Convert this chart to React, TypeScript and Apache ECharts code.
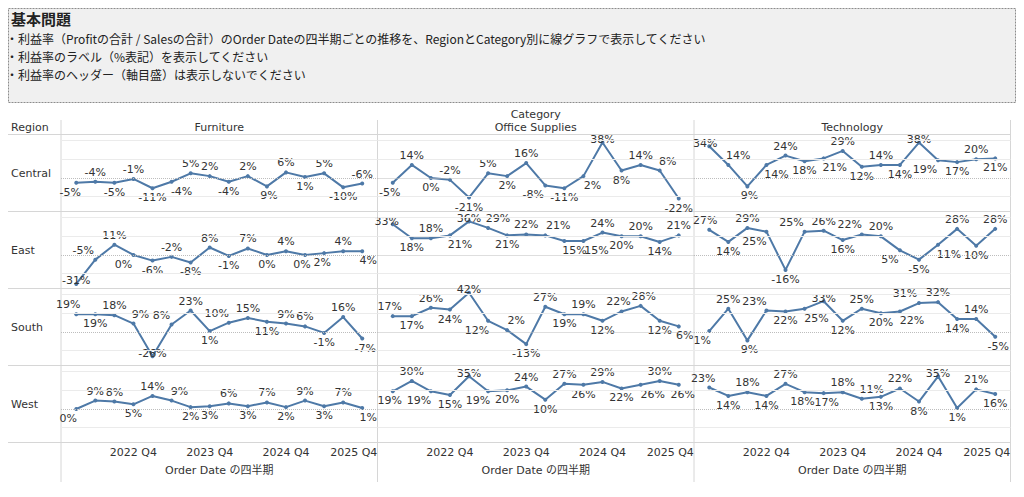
import React, { useEffect, useRef } from "react";
import * as echarts from "echarts";

const quarters = [
  "2022 Q1", "2022 Q2", "2022 Q3", "2022 Q4",
  "2023 Q1", "2023 Q2", "2023 Q3", "2023 Q4",
  "2024 Q1", "2024 Q2", "2024 Q3", "2024 Q4",
  "2025 Q1", "2025 Q2", "2025 Q3", "2025 Q4",
];
const xTickIndexes = [3, 7, 11, 15];
const regions = ["Central", "East", "South", "West"];
const categories = ["Furniture", "Office Supplies", "Technology"];

// Profit ratio (%) per quarter
const centralFurniture = [-5, -4, -5, -1, -11, -4, 5, 2, -4, 2, -9, 6, 1, 5, -10, -6];
const centralOffice = [-5, 14, 0, -2, -21, 5, 2, 16, -8, -11, 2, 38, 8, 14, 8, -22];
const centralTech = [34, 14, -9, 14, 24, 18, 21, 29, 12, 14, 14, 38, 19, 17, 20, 21];
const eastFurniture = [-31, -5, 11, 0, -6, -2, -8, 8, -1, 7, 0, 4, 0, 2, 4, 4];
const eastOffice = [33, 18, 18, 21, 36, 29, 21, 22, 21, 15, 15, 24, 20, 20, 14, 21];
const eastTech = [27, 14, 29, 25, -16, 25, 26, 16, 22, 20, 5, -5, 11, 28, 10, 28];
const southFurniture = [19, 19, 18, 9, -26, 8, 23, 1, 10, 15, 11, 9, 6, -1, 16, -7];
const southOffice = [17, 17, 26, 24, 42, 12, 2, -13, 27, 19, 19, 12, 22, 28, 12, 6];
const southTech = [1, 25, -9, 23, 22, 25, 33, 12, 25, 20, 22, 31, 32, 14, 14, -5];
const westFurniture = [0, 9, 8, 5, 14, 9, 2, 3, 6, 3, 7, 2, 9, 3, 7, 1];
const westOffice = [19, 30, 19, 15, 35, 19, 20, 24, 10, 27, 26, 29, 22, 26, 30, 26];
const westTech = [23, 14, 18, 14, 27, 18, 17, 18, 11, 13, 22, 8, 35, 1, 21, 16];

// label side per point: A = above, B = below, C = on the point (top edge), D = on the point (bottom edge)
const centralFurnitureSides = "BABABBAABABABABA";
const centralOfficeSides = "BABABABABBBCBAAB";
const centralTechSides = "CABBABBABABCBBAB";
const eastFurnitureSides = "CAABBABABABABBAB";
const eastOfficeSides = "CBABCABAABBABABA";
const eastTechSides = "ABABBAABAABBBABA";
const southFurnitureSides = "ABAADAABAABAABAB";
const southOfficeSides = "ABABCBABABABAABB";
const southTechSides = "BABABBCBABBAABAB";
const westFurnitureSides = "BAABAABBABABABAB";
const westOfficeSides = "BABBCBBABABABBAB";
const westTechSides = "ABABABBAABABCBAB";

// horizontal label nudges (px) keyed by point index
const centralFurnitureShift: Record<number, number> = { 0: -6, 5: 10 };
const centralOfficeShift: Record<number, number> = { 0: -3, 8: -12, 10: 9, 14: 8 };
const centralTechShift: Record<number, number> = { 0: -4, 1: 10, 3: 10, 6: 11, 12: -13 };
const eastFurnitureShift: Record<number, number> = { 1: -12, 3: -10, 12: -3, 13: -2, 15: 6 };
const eastOfficeShift: Record<number, number> = { 0: -6, 3: 10, 5: 10, 8: 13, 9: 10, 10: 13 };
const eastTechShift: Record<number, number> = { 0: -4, 3: -12, 5: -13, 8: -12, 10: -10, 12: 11 };
const southFurnitureShift: Record<number, number> = { 0: -8, 3: 7, 5: -10, 8: -12, 15: 3 };
const southOfficeShift: Record<number, number> = { 0: -3, 5: -11, 6: 9, 12: -3, 13: 3, 15: 6 };
const southTechShift: Record<number, number> = { 0: -7, 3: -12, 5: 12, 10: 12, 11: -14, 15: 3 };
const westFurnitureShift: Record<number, number> = { 0: -8, 5: 8, 15: 6 };
const westOfficeShift: Record<number, number> = { 0: -3, 2: -12, 5: -10, 13: 12, 15: 4 };
const westTechShift: Record<number, number> = { 0: -6, 5: -2, 6: 3, 8: 10 };

const panelValues = [
  [centralFurniture, centralOffice, centralTech],
  [eastFurniture, eastOffice, eastTech],
  [southFurniture, southOffice, southTech],
  [westFurniture, westOffice, westTech],
];
const panelSides = [
  [centralFurnitureSides, centralOfficeSides, centralTechSides],
  [eastFurnitureSides, eastOfficeSides, eastTechSides],
  [southFurnitureSides, southOfficeSides, southTechSides],
  [westFurnitureSides, westOfficeSides, westTechSides],
];
const panelShifts = [
  [centralFurnitureShift, centralOfficeShift, centralTechShift],
  [eastFurnitureShift, eastOfficeShift, eastTechShift],
  [southFurnitureShift, southOfficeShift, southTechShift],
  [westFurnitureShift, westOfficeShift, westTechShift],
];

const FONT = "DejaVu Sans, Noto Sans CJK JP, sans-serif";
const JP = "Noto Sans CJK JP, sans-serif";
const LINE = "#4e79a7";
const TEXT = "#333333";
const SEP = "#d6d6d6";

const PANEL_LEFT = 61;
const PANEL_W = 316.5;
const PANEL_TOP = 134.5;
const PANEL_H = 77;
const Y_MIN = -35.9;
const Y_MAX = 46.6;

export default function App() {
  const ref = useRef<HTMLDivElement>(null);
  useEffect(() => {
    if (!ref.current) return;
    const chart = echarts.init(ref.current, null, { renderer: "svg" });
    const grid: any[] = [];
    const xAxis: any[] = [];
    const yAxis: any[] = [];
    const series: any[] = [];
    for (let r = 0; r < regions.length; r++) {
      for (let c = 0; c < categories.length; c++) {
        const k = r * 3 + c;
        grid.push({
          left: PANEL_LEFT + c * PANEL_W,
          top: PANEL_TOP + r * PANEL_H,
          width: PANEL_W,
          height: PANEL_H,
          containLabel: false,
        });
        const bottom = r === regions.length - 1;
        xAxis.push({
          type: "value",
          gridIndex: k,
          min: -0.8,
          max: 15.8,
          show: bottom,
          axisLine: { show: false },
          axisTick: { show: false },
          splitLine: { show: false },
          axisLabel: {
            show: bottom,
            customValues: xTickIndexes,
            margin: 4,
            fontSize: 11,
            color: TEXT,
            fontFamily: FONT,
            formatter: (v: number) =>
              v === 15 ? "{last|" + quarters[v] + "}" : quarters[v],
            rich: { last: { padding: [0, 17, 0, 0], fontSize: 11, color: TEXT, fontFamily: FONT } },
          },
          name: bottom ? "Order Date の四半期" : "",
          nameLocation: "middle",
          nameGap: 22,
          nameTextStyle: { fontSize: 11, color: TEXT, fontFamily: FONT },
        });
        yAxis.push({
          type: "value",
          gridIndex: k,
          min: Y_MIN,
          max: Y_MAX,
          show: false,
          splitLine: { show: false },
        });
        const vals = panelValues[r][c];
        const sides = panelSides[r][c];
        const shifts = panelShifts[r][c];
        series.push({
          type: "line",
          xAxisIndex: k,
          yAxisIndex: k,
          symbol: "circle",
          symbolSize: 4,
          lineStyle: { color: LINE, width: 2 },
          itemStyle: { color: LINE },
          label: {
            show: true,
            fontSize: 11,
            color: TEXT,
            fontFamily: FONT,
            formatter: (p: any) => p.value[1] + "%",
          },
          data: vals.map((v, i) => {
            const s = sides[i];
            return {
              value: [i, v],
              label: {
                position: s === "B" || s === "D" ? "bottom" : "top",
                distance: s === "C" ? -4.5 : s === "D" ? -10 : 2,
                offset: [shifts[i] || 0, 0],
              },
            };
          }),
          markLine: {
            silent: true,
            symbol: "none",
            label: { show: false },
            animation: false,
            data: [
              { yAxis: -20, lineStyle: { color: "#ebebeb", width: 1, type: "solid" } },
              { yAxis: 20, lineStyle: { color: "#ebebeb", width: 1, type: "solid" } },
              { yAxis: 40, lineStyle: { color: "#ebebeb", width: 1, type: "solid" } },
              { yAxis: 0, lineStyle: { color: "#bdbdbd", width: 1, type: "dotted" } },
            ],
          },
        });
      }
    }

    const graphic: any[] = [];
    graphic.push({
      type: "rect",
      shape: { x: 8.5, y: 8.5, width: 1007, height: 94 },
      style: { fill: "#f0f0f0", stroke: "#8c8c8c", lineWidth: 1, lineDash: [2, 1] },
      silent: true,
    });
    graphic.push({
      type: "text",
      x: 11,
      y: 18,
      style: { text: "基本問題", font: "bold 15px " + JP, fill: "#222", verticalAlign: "middle" },
    });
    const taskLines = [
      "・利益率（Profitの合計 / Salesの合計）のOrder Dateの四半期ごとの推移を、RegionとCategory別に線グラフで表示してください",
      "・利益率のラベル（%表記）を表示してください",
      "・利益率のヘッダー（軸目盛）は表示しないでください",
    ];
    taskLines.forEach((t, i) => {
      graphic.push({
        type: "text",
        x: 6,
        y: 38 + i * 18,
        style: { text: t, font: "12px " + JP, fill: "#222", verticalAlign: "middle" },
      });
    });
    // headers
    graphic.push({
      type: "text",
      x: PANEL_LEFT + PANEL_W * 1.5,
      y: 114,
      style: { text: "Category", font: "11px " + FONT, fill: TEXT, align: "center", verticalAlign: "middle" },
    });
    graphic.push({
      type: "text",
      x: 11,
      y: 127,
      style: { text: "Region", font: "11px " + FONT, fill: TEXT, verticalAlign: "middle" },
    });
    categories.forEach((cat, c) => {
      graphic.push({
        type: "text",
        x: PANEL_LEFT + PANEL_W * (c + 0.5),
        y: 127,
        style: { text: cat, font: "11px " + FONT, fill: TEXT, align: "center", verticalAlign: "middle" },
      });
    });
    regions.forEach((reg, r) => {
      graphic.push({
        type: "text",
        x: 11,
        y: PANEL_TOP + r * PANEL_H + 39,
        style: { text: reg, font: "11px " + FONT, fill: TEXT, verticalAlign: "middle" },
      });
    });
    // separators
    for (let r = 0; r <= regions.length; r++) {
      const y = PANEL_TOP + r * PANEL_H;
      graphic.push({
        type: "line",
        shape: { x1: 8, y1: y, x2: PANEL_LEFT + 3 * PANEL_W, y2: y },
        style: { stroke: SEP, lineWidth: 1 },
        silent: true,
      });
    }
    for (let c = 0; c <= 3; c++) {
      const x = PANEL_LEFT + c * PANEL_W;
      graphic.push({
        type: "line",
        shape: { x1: x, y1: 120, x2: x, y2: 482 },
        style: { stroke: SEP, lineWidth: 1 },
        silent: true,
      });
    }

    chart.setOption({
      animation: false,
      backgroundColor: "#ffffff",
      textStyle: { fontFamily: FONT },
      grid,
      xAxis,
      yAxis,
      series,
      graphic,
    });
    return () => chart.dispose();
  }, []);
  return (
    <div
      ref={ref}
      style={{ position: "fixed", left: 0, top: 0, width: 1024, height: 497, background: "#fff" }}
    />
  );
}
